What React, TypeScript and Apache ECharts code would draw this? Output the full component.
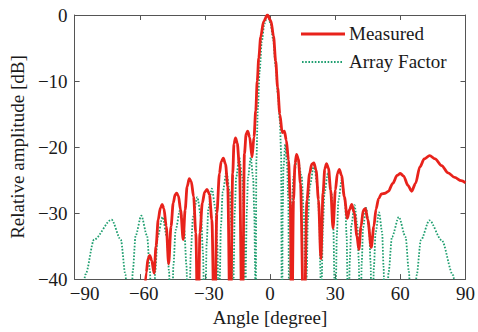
import React, { useEffect, useRef } from "react";
import * as echarts from "echarts";

// Measured pattern (angle in degrees, relative amplitude in dB)
const measuredAngle = [
  -58.5, -57.0, -56.2, -55.4, -54.5, -53.4, -52.5, -51.5, -50.5, -49.7, -48.9, -47.8, -46.7,
  -45.6, -44.6, -43.7, -43.0, -42.2, -41.2, -40.0, -39.1, -38.2, -37.2, -36.3, -35.2, -34.2,
  -33.2, -32.3, -31.2, -30.1, -29.0, -27.9, -26.8, -25.6, -24.5, -23.3, -22.5, -21.5, -20.5,
  -19.5, -18.3, -17.2, -16.6, -15.9, -15.1, -14.1, -12.8, -11.8, -11.0, -10.3, -9.4, -8.3,
  -7.4, -6.6, -5.9, -5.2, -4.3, -3.0, -1.2, 0.4, 1.6, 2.6, 3.5, 4.5, 5.6, 6.6, 7.5, 8.5, 9.3,
  10.0, 10.8, 11.5, 12.2, 13.0, 14.0, 15.6, 17.0, 18.2, 19.2, 20.2, 21.2, 22.3, 23.4, 24.4,
  25.2, 26.0, 26.9, 27.9, 29.0, 30.1, 31.0, 31.9, 32.9, 34.2, 35.6, 36.6, 37.6, 38.8, 40.0,
  40.9, 41.9, 42.9, 43.9, 45.0, 46.6, 47.8, 48.8, 50.0, 51.3, 53.0, 54.5, 56.5, 58.5, 60.0,
  61.5, 63.5, 65.2, 67.0, 69.0, 71.0, 73.5, 76.0, 79.0, 82.0, 85.0, 88.0, 90.0,
];
const measuredDb = [
  -46, -39, -36.9, -36.4, -37.2, -39.1, -35, -31, -29.2, -28.7, -29.3, -32, -37.7,
  -32, -28.5, -27.2, -27.0, -27.4, -29.5, -34.0, -29.5, -26.0, -24.8, -25.2, -27.5, -33,
  -50, -33, -28.5, -26.8, -26.4, -27.2, -31, -50, -30, -24, -22.2, -21.7, -22.6,
  -26, -50, -24, -19.5, -18.6, -19.4, -23, -50, -21, -18, -17.6, -18.5, -21.5,
  -18.5, -14.5, -10, -6.5, -3.3, -1.0, 0, -0.9, -3.2, -7.0, -11, -15, -17.8, -17.6, -19, -22, -28,
  -50, -28, -22.5, -21.1, -21.8, -25.5, -50, -28, -24, -22.6, -22.4, -23.5, -28, -36.9, -27,
  -23.3, -22.5, -23.2, -26.5, -32.3, -26.5, -24, -23.4, -24.3, -27.5, -30.8, -29.5, -28.7, -30, -33.5,
  -35.5, -32, -29.6, -29.3, -31, -35.2, -32, -29.4, -27.8, -27.1, -27.0, -26.7, -25.5, -24.3, -24.0,
  -24.4, -25.8, -26.7, -25.5, -23, -21.8, -21.3, -21.8, -22.8, -23.9, -24.6, -25.1, -25.4,
];

// Array factor (angle in degrees, dB)
const arrayFactorAngle = [
  -90, -89, -87.4, -85, -81, -73, -68.75, -66.6, -65.35, -64.5,
  -63.98, -63.2, -61.9, -59.3, -56.65, -55.35, -54.53, -54,
  -53.55, -52.9, -51.75, -49.5, -47.5, -46.5, -45.9, -45.5,
  -45.1, -44.5, -43.5, -41.5, -39.5, -38.5, -37.9, -37.5,
  -37.1, -36.5, -35.5, -33.5, -31.75, -30.9, -30.35, -30,
  -29.7, -29.2, -28.4, -26.8, -25.15, -24.3, -23.8, -23.5,
  -23.15, -22.65, -21.8, -20.1, -18.55, -17.8, -17.3, -17,
  -16.7, -16.3, -15.6, -14.2, -12.8, -12.1, -11.7, -11.4,
  -11.15, -10.75, -10.15, -8.9, -7.8, -7.25, -6.9, -6.7,
  -6.3, -5.6, -4.8, -3.8, -2.6, -1.2, 0.2, 1.4, 2.6, 3.6, 4.5, 5.1, 5.5,
  5.8, 6.2, 7.0, 7.8, 8.4, 9.0,
  9.35, 9.9, 10.8, 12.6, 14.55, 15.5, 16.1, 16.5,
  16.9, 17.4, 18.35, 20.2, 21.85, 22.7, 23.2, 23.5,
  23.8, 24.3, 25.05, 26.6, 28.3, 29.15, 29.65, 30,
  30.3, 30.75, 31.5, 33, 34.5, 35.25, 35.7, 36,
  36.3, 36.7, 37.45, 38.9, 40.2, 40.85, 41.25, 41.5,
  41.8, 42.2, 42.85, 44.2, 45.6, 46.3, 46.7, 47,
  47.3, 47.8, 48.6, 50.2, 51.6, 52.3, 52.7, 53,
  53.6, 54.6, 56.15, 59.3, 62.4, 63.95, 64.9, 65.5,
  66.3, 67.5, 69.45, 73.4, 79.0, 84.3, 86.6, 88, 90,
];
const arrayFactorDb = [
  -55, -60, -47, -39.3, -34.0, -31.0, -34.0, -39.3, -47, -60,
  -46.4, -38.7, -33.4, -30.4, -33.4, -38.7, -46.4, -60,
  -46.6, -38.9, -33.6, -30.6, -33.6, -38.9, -46.6, -60,
  -45.6, -37.9, -32.6, -29.6, -32.6, -37.9, -45.6, -60,
  -43.6, -35.9, -30.6, -27.6, -30.6, -35.9, -43.6, -60,
  -42.3, -34.6, -29.3, -26.3, -29.3, -34.6, -42.3, -60,
  -39.8, -32.1, -26.8, -23.8, -26.8, -32.1, -39.8, -60,
  -37.6, -29.9, -24.6, -21.6, -24.6, -29.9, -37.6, -60,
  -37.6, -29.9, -24.6, -21.6, -24.6, -29.9, -37.6, -60,
  -22, -14, -8.5, -4, -1.3, 0, -1.2, -3.6, -7.8, -12, -16, -21, -60,
  -30, -23, -19.6, -22.5, -28, -60,
  -37.5, -29.8, -24.5, -21.5, -24.5, -29.8, -37.5, -60,
  -38.8, -31.1, -25.8, -22.8, -25.8, -31.1, -38.8, -60,
  -40, -32.3, -27, -24, -27, -32.3, -40, -60,
  -41, -33.3, -28, -25, -28, -33.3, -41, -60,
  -44.8, -37.1, -31.8, -28.8, -31.8, -37.1, -44.8, -60,
  -45.2, -37.5, -32.2, -29.2, -32.2, -37.5, -45.2, -60,
  -45.9, -38.2, -32.9, -29.9, -32.9, -38.2, -45.9, -60,
  -46.6, -38.9, -33.6, -30.6, -33.6, -38.9, -46.6, -60,
  -47.1, -39.4, -34.1, -31.1, -34.1, -39.4, -47.1, -60, -55,
];

const seriesNames = ["Measured", "Array Factor"];
const angleRange = { min: -90, max: 90, interval: 30 };
const dbRange = { min: -40, max: 0, interval: 10 };

const FONT = "'Liberation Serif', 'DejaVu Serif', serif";
const FS = 19;
const AXIS_COLOR = "#555";
const TEXT_COLOR = "#1a1a1a";
const RED = "#e8221b";
const GREEN = "#1f9f70";

const minusFmt = (v: number) => (v < 0 ? "\u2212" + Math.abs(v) : String(v));
const xLabelFmt = (v: number) => {
  if (v === angleRange.min) return "{first|" + minusFmt(v) + "}";
  if (v < 0) return "{neg|" + minusFmt(v) + "}";
  return minusFmt(v);
};

export default function App() {
  const ref = useRef<HTMLDivElement>(null);

  useEffect(() => {
    if (!ref.current) return;
    const chart = echarts.init(ref.current, undefined, { renderer: "svg" });
    const measured = measuredAngle.map((a, i) => [a, measuredDb[i]]);
    const af = arrayFactorAngle.map((a, i) => [a, arrayFactorDb[i]]);

    const tick = { show: true, inside: true, length: 5, lineStyle: { color: AXIS_COLOR } };
    const line = { show: true, onZero: false, lineStyle: { color: AXIS_COLOR, width: 1 } };
    const labelFont = { fontFamily: FONT, fontSize: FS, color: TEXT_COLOR };

    chart.setOption({
      animation: false,
      backgroundColor: "#fff",
      grid: { left: 65, right: 11, top: 15, bottom: 43, containLabel: false },
      graphic: [
        {
          type: "line",
          shape: { x1: 301, y1: 34, x2: 345, y2: 34 },
          style: { stroke: RED, lineWidth: 2.8 },
        },
        {
          type: "text",
          left: 349,
          top: 24,
          style: { text: seriesNames[0], font: `${FS}px ${FONT}`, fill: TEXT_COLOR },
        },
        {
          type: "line",
          shape: { x1: 302, y1: 62, x2: 342, y2: 62 },
          style: { stroke: GREEN, lineWidth: 1.8, lineDash: [1.6, 1.6] },
        },
        {
          type: "text",
          left: 349,
          top: 52,
          style: { text: seriesNames[1], font: `${FS}px ${FONT}`, fill: TEXT_COLOR },
        },
      ],
      xAxis: [
        {
          type: "value",
          ...angleRange,
          axisLine: line,
          axisTick: tick,
          splitLine: { show: false },
          axisLabel: {
            formatter: xLabelFmt,
            ...labelFont,
            margin: 5,
            rich: {
              first: { ...labelFont, padding: [0, 0, 0, 20] },
              neg: { ...labelFont, padding: [0, 0, 0, 8] },
            },
          },
          name: "Angle [degree]",
          nameLocation: "middle",
          nameGap: 20,
          nameTextStyle: { fontFamily: FONT, fontSize: FS, color: TEXT_COLOR, lineHeight: 18 },
        },
        {
          type: "value",
          position: "top",
          ...angleRange,
          axisLine: line,
          axisTick: tick,
          axisLabel: { show: false },
          splitLine: { show: false },
        },
      ],
      yAxis: [
        {
          type: "value",
          ...dbRange,
          axisLine: line,
          axisTick: tick,
          splitLine: { show: false },
          axisLabel: {
            formatter: minusFmt,
            ...labelFont,
            margin: 7,
          },
          name: "Relative amplitude [dB]",
          nameLocation: "middle",
          nameGap: 42,
          nameTextStyle: { fontFamily: FONT, fontSize: FS, color: TEXT_COLOR },
        },
        {
          type: "value",
          position: "right",
          ...dbRange,
          axisLine: line,
          axisTick: tick,
          axisLabel: { show: false },
          splitLine: { show: false },
        },
      ],
      series: [
        {
          name: seriesNames[1],
          type: "line",
          data: af,
          showSymbol: false,
          symbol: "none",
          smooth: 0.3,
          smoothMonotone: "x",
          clip: true,
          z: 2,
          lineStyle: { color: GREEN, width: 1.8, type: [1.6, 1.6] },
          itemStyle: { color: GREEN },
        },
        {
          name: seriesNames[0],
          type: "line",
          data: measured,
          showSymbol: false,
          symbol: "none",
          smooth: 0.3,
          smoothMonotone: "x",
          clip: true,
          z: 3,
          lineStyle: { color: RED, width: 2.8 },
          itemStyle: { color: RED },
        },
      ],
    });
    return () => chart.dispose();
  }, []);

  return (
    <div
      ref={ref}
      style={{ position: "fixed", left: 0, top: 0, width: 478, height: 332 }}
    />
  );
}
